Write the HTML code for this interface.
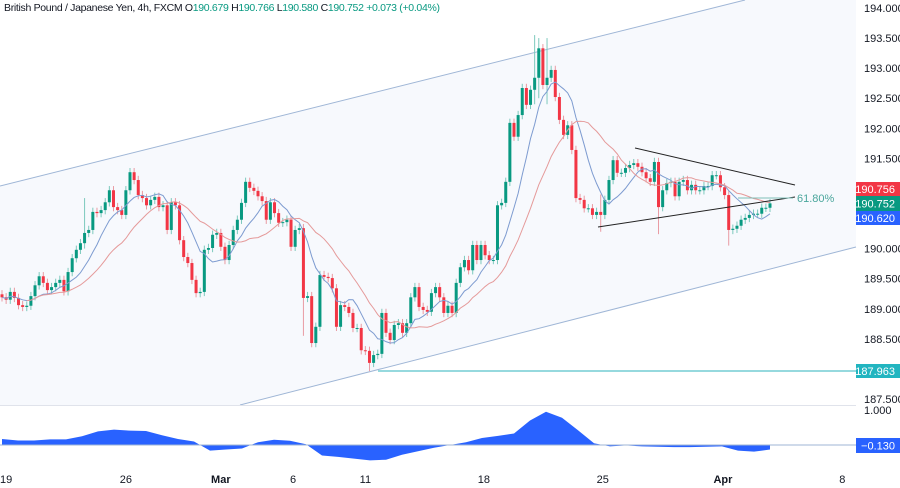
<!DOCTYPE html>
<html><head><meta charset="utf-8"><style>
html,body{margin:0;padding:0;background:#fff;}
svg{display:block;font-family:"Liberation Sans",sans-serif;}
</style></head><body>
<svg id="chart" width="900" height="488" viewBox="0 0 900 488">
<polygon points="0,186 745,0 856,0 856,247 240,405 0,405" fill="#f7f9fd"/>
<line x1="0" y1="186" x2="745" y2="0" stroke="#9fb6d6" stroke-width="1"/>
<line x1="240" y1="405" x2="856" y2="247" stroke="#9fb6d6" stroke-width="1"/>
<line x1="378" y1="371" x2="856" y2="371" stroke="#2db3bd" stroke-width="1"/>
<line x1="0" y1="405.5" x2="856" y2="405.5" stroke="#e0e3eb" stroke-width="1"/>
<g id="candles"></g>
<g id="mas"></g>
<line x1="635" y1="148" x2="795" y2="185" stroke="#222" stroke-width="1"/>
<line x1="598" y1="227" x2="795" y2="197" stroke="#222" stroke-width="1"/>
<line x1="738" y1="198" x2="793" y2="198" stroke="#7fbfb8" stroke-width="1"/>
<text x="797" y="202" font-size="11" fill="#4aa69c">61.80%</text>
<g id="osc"></g>
<text x="4" y="11" font-size="10.5" fill="#131722" textLength="436" lengthAdjust="spacing">British Pound / Japanese Yen, 4h, FXCM  O<tspan fill="#089981">190.679</tspan>  H<tspan fill="#089981">190.766</tspan>  L<tspan fill="#089981">190.580</tspan>  C<tspan fill="#089981">190.752</tspan>  <tspan fill="#089981">+0.073 (+0.04%)</tspan></text>
<g id="yaxis"></g>
<g id="xaxis"></g>
<rect x="856" y="182" width="44" height="14" fill="#f23645"/>
<text x="895" y="193" font-size="11" fill="#fff" text-anchor="end">190.756</text>
<rect x="856" y="196" width="44" height="15" fill="#089981"/>
<text x="895" y="207.5" font-size="11" fill="#fff" text-anchor="end">190.752</text>
<rect x="856" y="211" width="44" height="14" fill="#2962ff"/>
<text x="895" y="222" font-size="11" fill="#fff" text-anchor="end">190.620</text>
<rect x="856" y="364" width="44" height="14" fill="#22b5c0"/>
<text x="895" y="375" font-size="11" fill="#fff" text-anchor="end">187.963</text>
</svg>
<script>
const closes = [189.19,189.15,189.28,189.18,189.06,189.03,189.05,189.21,189.39,189.54,189.43,189.31,189.36,189.43,189.48,189.29,189.61,189.84,189.98,190.09,190.26,190.31,190.61,190.59,190.64,190.77,190.97,190.69,190.64,190.56,190.97,191.27,191.14,190.89,190.84,190.72,190.81,190.86,190.69,190.72,190.31,190.77,190.72,190.14,
189.86,189.76,189.48,189.26,189.28,189.98,190.01,190.23,190.26,190.03,189.81,190.06,190.31,190.48,190.76,191.11,191.01,190.96,190.87,190.79,190.48,190.77,190.59,190.43,190.44,190.48,190.03,190.31,190.34,189.18,189.21,188.43,188.70,189.56,189.53,189.51,189.34,188.70,189.06,189.03,188.93,188.68,188.68,188.31,188.30,188.10,188.23,188.25,188.93,188.60,188.48,
188.73,188.76,188.60,188.76,189.19,189.36,189.03,188.98,188.95,189.26,189.36,189.19,188.93,189.05,188.93,189.43,189.69,189.81,189.64,190.06,189.81,190.06,189.89,189.81,189.81,190.72,190.76,191.11,192.09,191.86,192.22,192.67,192.39,192.64,192.84,193.33,192.72,192.84,192.97,192.52,192.14,191.89,192.05,191.64,190.84,
190.81,190.67,190.67,190.56,190.61,190.56,190.81,191.14,191.47,191.26,191.26,191.34,191.39,191.42,191.36,191.27,191.17,191.11,191.44,190.69,190.97,191.09,191.11,190.87,191.11,191.14,190.97,191.06,190.97,190.97,191.04,191.04,191.22,191.22,191.02,190.89,190.31,190.33,190.38,190.48,190.51,190.56,190.58,190.58,190.679,190.679,190.752];
const defaultWick = 0.07;
const spikeIdx  = [20,73,89,129,130,132,145,159,176];
const spikeHigh = [190.84,189.40,188.35,193.55,193.50,193.50,190.90,191.10,190.45];
const spikeLow  = [190.00,188.55,187.963,192.40,192.50,192.40,190.28,190.24,190.05];
const oscValues = [0.17,0.13,0.13,0.16,0.16,0.25,0.39,0.44,0.41,0.40,0.28,0.17,0.10,-0.16,-0.13,-0.10,0.08,0.15,0.12,0.02,-0.30,-0.34,-0.39,-0.44,-0.42,-0.28,-0.18,-0.08,0.00,0.08,0.20,0.26,0.33,0.70,0.95,0.78,0.42,0.05,-0.04,-0.01,-0.04,-0.05,-0.06,-0.06,-0.05,-0.04,-0.16,-0.19,-0.13];
const priceTicks = ["194.000","193.500","193.000","192.500","192.000","191.500","190.000","189.500","189.000","188.500","187.500"];
const dateLabels = ["19","26","Mar","6","11","18","25","Apr","8"];
const dateIdx = [1,30,53,70.5,88,116.7,145.5,174.6,203.5];

const NS="http://www.w3.org/2000/svg";
const n=closes.length;
const X=i=>2+i*(768/(n-1));
const Y=p=>8+(194-p)*60.15;
const OY=v=>445-v*35;
function mk(tag,attrs,parent){const e=document.createElementNS(NS,tag);for(const k in attrs)e.setAttribute(k,attrs[k]);parent.appendChild(e);return e;}

const cg=document.getElementById('candles');
for(let i=0;i<n;i++){
  const o=i===0?closes[0]+0.05:closes[i-1];
  const c=closes[i];
  let hi=Math.max(o,c)+defaultWick, lo=Math.min(o,c)-defaultWick;
  const s=spikeIdx.indexOf(i);
  if(s>=0){hi=Math.max(hi,spikeHigh[s]);lo=Math.min(lo,spikeLow[s]);}
  const col=c>=o?'#089981':'#f23645';
  const wcol=c>=o?'#7cc9bd':'#e99aa2';
  const x=X(i);
  const w=mk('line',{x1:x,x2:x,y1:Y(hi),y2:Y(lo),stroke:wcol,'stroke-width':1},cg);
  
  
  const top=Y(Math.max(o,c)),bot=Y(Math.min(o,c));
  const b=mk('rect',{x:x-1.5,y:top,width:3,height:Math.max(1,bot-top),fill:col},cg);
  
  
}
function sma(len){const r=[];for(let i=0;i<n;i++){const s=Math.max(0,i-len+1);let t=0;for(let j=s;j<=i;j++)t+=closes[j];r.push(t/(i-s+1));}return r;}
const mg=document.getElementById('mas');
const fast=sma(9),slow=sma(20);
const pf=mk('polyline',{points:fast.map((v,i)=>X(i)+','+Y(v)).join(' '),fill:'none',stroke:'#7d9bd0','stroke-width':1},mg);


const ps=mk('polyline',{points:slow.map((v,i)=>X(i)+','+Y(v)).slice(6).join(' '),fill:'none',stroke:'#e59a9a','stroke-width':1},mg);



const og=document.getElementById('osc');
const oX=k=>2+k*16;
let d='M'+oX(0)+','+OY(0);
oscValues.forEach((v,k)=>{d+=' L'+oX(k)+','+OY(v);});
d+=' L'+oX(oscValues.length-1)+','+OY(0)+' Z';
const area=mk('path',{d:d,fill:'#2962ff',stroke:'none'},og);


const zl=mk('line',{x1:0,x2:856,y1:OY(0),y2:OY(0),stroke:'#9fb6d6','stroke-width':1},og);


const t1=mk('text',{x:864,y:414,'font-size':11,fill:'#131722'},og);t1.textContent='1.000';


const ob=mk('rect',{x:856,y:438,width:44,height:15,fill:'#2962ff'},og);


const ot=mk('text',{x:895,y:449.5,'font-size':11,fill:'#fff','text-anchor':'end'},og);ot.textContent='\u22120.130';



const ya=document.getElementById('yaxis');
priceTicks.forEach(t=>{
  const e=mk('text',{x:864,y:Y(parseFloat(t))+4,'font-size':11,fill:'#131722'},ya);
  e.textContent=t;
  
  
});
const xa=document.getElementById('xaxis');
dateLabels.forEach((t,k)=>{
  const e=mk('text',{x:X(dateIdx[k]),y:483,'font-size':11,fill:'#131722','text-anchor':'middle','font-weight':(t==='Mar'||t==='Apr')?'bold':'normal'},xa);
  e.textContent=t;
  
  
});
</script>
</body></html>
